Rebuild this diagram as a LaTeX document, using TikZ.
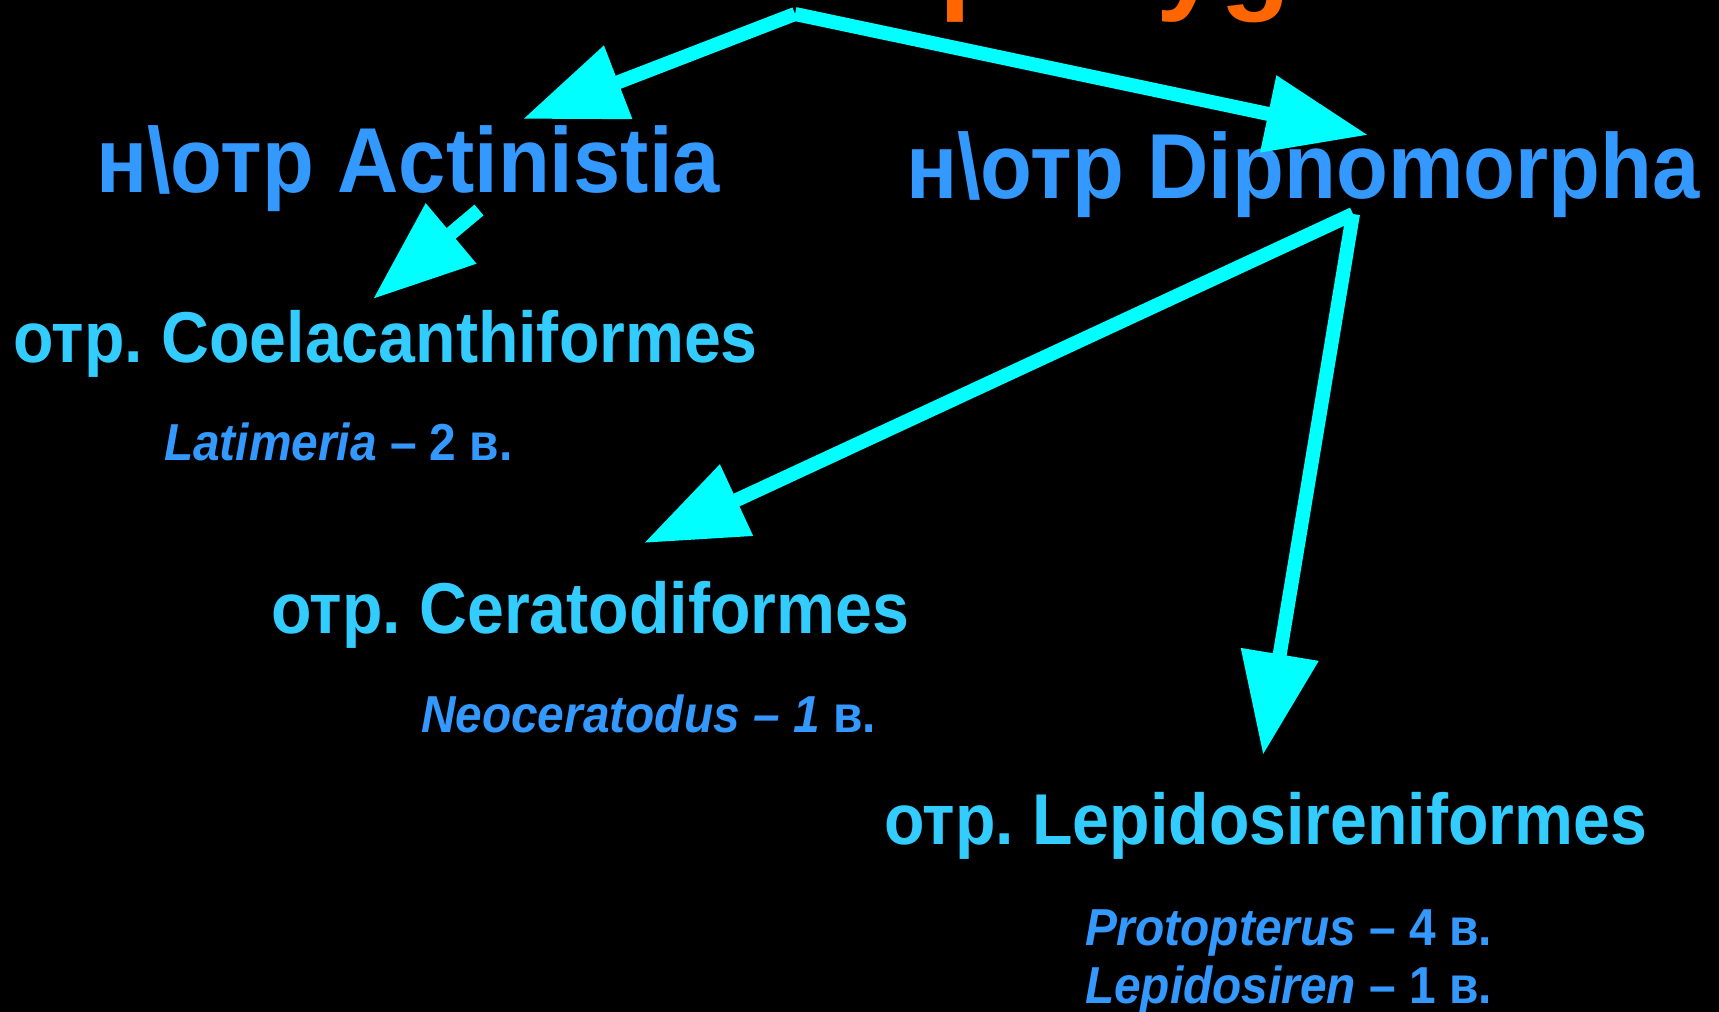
\documentclass[tikz,border=0pt]{standalone}
\usepackage{fontspec}
\setmainfont{Liberation Sans}[FakeStretch=0.92]
\newfontfamily\titlefont{Liberation Sans}
\usetikzlibrary{arrows.meta}
\definecolor{hblue}{HTML}{3399FF}
\definecolor{oblue}{HTML}{33CCFF}
\definecolor{aqua}{HTML}{00FFFF}
\definecolor{ttlorange}{HTML}{FF6600}
\frenchspacing
\tikzset{
  txt/.style={anchor=base west, inner sep=0pt, outer sep=0pt},
  headtxt/.style={txt, text=hblue, font=\fontsize{92.3}{100}\selectfont\bfseries},
  ordtxt/.style={txt, text=oblue, font=\fontsize{72}{80}\selectfont\bfseries},
  sptxt/.style={txt, text=hblue, font=\fontsize{52}{60}\selectfont\bfseries},
  arr/.style={draw=aqua, line width=14pt, -{Triangle[length=102pt,width=75pt]}}
}
\begin{document}
\begin{tikzpicture}[x=1pt,y=-1pt]
\useasboundingbox (0,0) rectangle (1719,1012);
\fill[black] (0,0) rectangle (1719,1012);

\node[txt, text=ttlorange, font=\titlefont\fontsize{115}{120}\selectfont\bfseries] (title) at (620,-2) {Sarcopterygii};

\node[headtxt] (act) at (96,192) {н\textbackslash отр Actinistia};
\node[headtxt] (dip) at (906,198) {н\textbackslash отр Dipnomorpha};

\node[ordtxt] (coel) at (13,362) {отр. Coelacanthiformes};
\node[sptxt] (lat) at (164,460) {\itshape Latimeria\upshape{} – 2 в.};

\node[ordtxt] (cera) at (271,633) {отр. Ceratodiformes};
\node[sptxt] (neo) at (421,732) {\itshape Neoceratodus – 1\upshape{} в.};

\node[ordtxt] (lepi) at (884,844) {отр. Lepidosireniformes};
\node[sptxt] (prot) at (1085,945) {\itshape Protopterus\upshape{} – 4 в.};
\node[sptxt] (lepsir) at (1085,1003) {\itshape Lepidosiren\upshape{} – 1 в.};

\coordinate (apex) at (795,14);
\coordinate (actTip) at (523,119);
\coordinate (dipTip) at (1368,135);
\coordinate (actFrom) at (479,210);
\coordinate (coelTip) at (373,299);
\coordinate (dipFork) at (1353,214);
\coordinate (ceraTip) at (644,543);
\coordinate (lepiTip) at (1263,755);

\draw[arr] (apex) -- (actTip);
\draw[arr] (apex) -- (dipTip);
\draw[arr] (actFrom) -- (coelTip);
\draw[arr] (dipFork) -- (ceraTip);
\draw[arr] (dipFork) -- (lepiTip);
\end{tikzpicture}
\end{document}
